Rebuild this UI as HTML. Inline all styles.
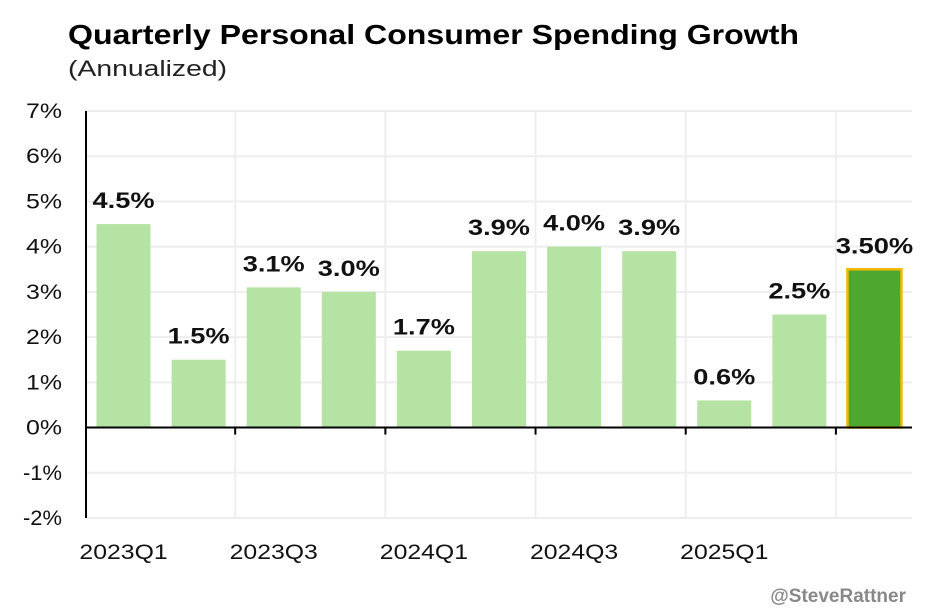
<!DOCTYPE html>
<html><head><meta charset="utf-8"><style>
body{margin:0;background:#fff;}
svg{display:block;font-family:"Liberation Sans",sans-serif;}
</style></head><body>
<svg id="chart" width="937" height="611">
<text x="68" y="44" font-size="28" font-weight="bold" fill="#000" textLength="731" lengthAdjust="spacingAndGlyphs">Quarterly Personal Consumer Spending Growth</text>
<text x="68" y="76" font-size="22" fill="#222" textLength="159" lengthAdjust="spacingAndGlyphs">(Annualized)</text>
<g id="grid"></g><g id="bars"></g><g id="axes"></g>
<text x="906" y="602" font-size="19" font-weight="bold" fill="#888" text-anchor="end">@SteveRattner</text>
</svg>
<script>
const categories=["2023Q1","2023Q2","2023Q3","2023Q4","2024Q1","2024Q2","2024Q3","2024Q4","2025Q1","2025Q2","2025Q3"];
const values=[4.5,1.5,3.1,3.0,1.7,3.9,4.0,3.9,0.6,2.5,3.5];
const valueLabels=["4.5%","1.5%","3.1%","3.0%","1.7%","3.9%","4.0%","3.9%","0.6%","2.5%","3.50%"];
const yTicks=[7,6,5,4,3,2,1,0,-1,-2];
const xLabelIdx=[0,2,4,6,8];
const NS="http://www.w3.org/2000/svg";
const L=86,R=912,T=111,B=518,ymax=7,ymin=-2;
const y=v=>T+(ymax-v)*(B-T)/(ymax-ymin);
const bw=(R-L)/categories.length;
const x=i=>L+i*bw;
function mk(tag,attrs,parent){const e=document.createElementNS(NS,tag);for(const k in attrs)e.setAttribute(k,attrs[k]);parent.appendChild(e);return e;}
const grid=document.getElementById('grid'),bars=document.getElementById('bars'),axes=document.getElementById('axes');
yTicks.forEach(t=>{
 const g=mk('line',{x1:L,x2:R,y1:y(t),y2:y(t),stroke:'#eeeeee','stroke-width':2},grid);
 
 
 const s=t+'%';
 const tx=mk('text',{x:62,y:y(t)+7,'font-size':21,'text-anchor':'end',fill:'#111',textLength:t<0?39:36,lengthAdjust:'spacingAndGlyphs'},axes);
 tx.textContent=s;
 
 
});
for(let i=2;i<categories.length;i+=2){
 const g=mk('line',{x1:x(i)-1,x2:x(i)-1,y1:T,y2:B,stroke:'#eeeeee','stroke-width':2},grid);
 
 
 const tk=mk('line',{x1:x(i)-1,x2:x(i)-1,y1:y(0),y2:y(0)+7,stroke:'#000','stroke-width':2},axes);
 
 
}
values.forEach((v,i)=>{
 const last=i===values.length-1;
 const w=54,bx=x(i)+(bw-w)/2;
 const r=mk('rect',{x:bx,y:Math.min(y(v),y(0)),width:w,height:Math.abs(y(0)-y(v)),fill:last?'#4ea72e':'#b5e3a3'},bars);
 if(last){r.setAttribute('stroke','#f5b800');r.setAttribute('stroke-width',2.5);}
 
 
 const s=valueLabels[i];
 const t=mk('text',{x:bx+w/2,y:y(v)-16,'font-size':22,'font-weight':'bold','text-anchor':'middle',fill:'#111',textLength:s.length*15.5,lengthAdjust:'spacingAndGlyphs'},bars);
 t.textContent=s;
 
 
});
const ax=mk('line',{x1:L,x2:L,y1:T,y2:B,stroke:'#000','stroke-width':2},axes);


const zx=mk('line',{x1:L,x2:R,y1:y(0),y2:y(0),stroke:'#000','stroke-width':2},axes);


xLabelIdx.forEach(i=>{
 const s=categories[i];
 const t=mk('text',{x:x(i)+bw/2,y:559,'font-size':21,'text-anchor':'middle',fill:'#111',textLength:s.length*14.7,lengthAdjust:'spacingAndGlyphs'},axes);
 t.textContent=s;
 
 
});
</script>
</body></html>
